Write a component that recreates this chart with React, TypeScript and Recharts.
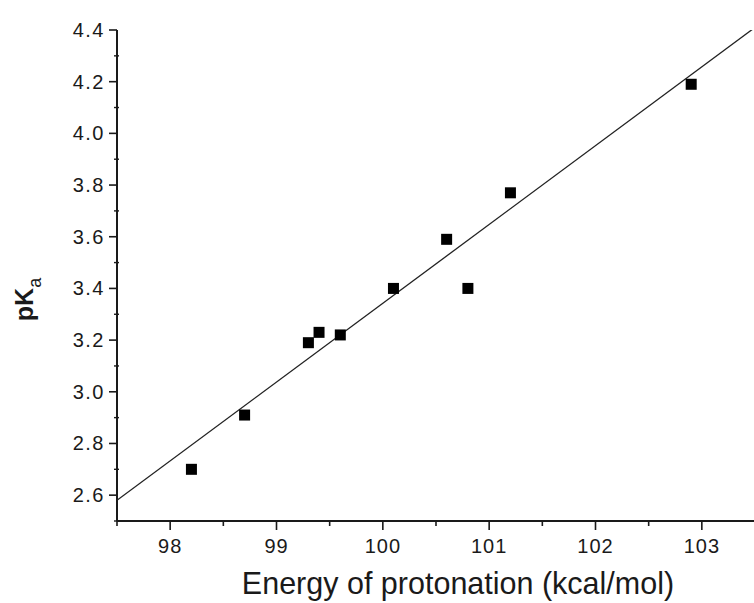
import React from "react";
import { ScatterChart, Scatter, XAxis, YAxis, Label } from "recharts";

// measured points (energy of protonation vs pKa)
const energy = [98.2, 98.7, 99.3, 99.4, 99.6, 100.1, 100.6, 100.8, 101.2, 102.9];
const pka = [2.7, 2.91, 3.19, 3.23, 3.22, 3.4, 3.59, 3.4, 3.77, 4.19];

// linear fit, drawn across the whole axis
const fitX = [97.5, 103.5];
const fitY = [2.58, 4.41];

const xTicks = [97.5, 98, 98.5, 99, 99.5, 100, 100.5, 101, 101.5, 102, 102.5, 103, 103.5];
const yTicks = [2.5, 2.6, 2.7, 2.8, 2.9, 3.0, 3.1, 3.2, 3.3, 3.4, 3.5, 3.6, 3.7, 3.8, 3.9, 4.0, 4.1, 4.2, 4.3, 4.4];

const points = energy.map((x, i) => ({ x, y: pka[i] }));
const fit = fitX.map((x, i) => ({ x, y: fitY[i] }));

const INK = "#1a1a1a";
const FONT = "'Liberation Sans', Arial, sans-serif";

function XTick({ x, y, payload }: any) {
  const v = payload.value as number;
  const major = Number.isInteger(v);
  return (
    <g>
      <line x1={x} x2={x} y1={y} y2={y + (major ? 9 : 5)} stroke={INK} strokeWidth={1.6} />
      {major && (
        <text x={x} y={y + 32} textAnchor="middle" fontSize={20} fill={INK} fontFamily={FONT} letterSpacing={1}>
          {v}
        </text>
      )}
    </g>
  );
}

function YTick({ x, y, payload }: any) {
  const v = payload.value as number;
  const major = Math.round(v * 10) % 2 === 0;
  return (
    <g>
      {major ? (
        <line x1={x - 8} x2={x} y1={y} y2={y} stroke={INK} strokeWidth={1.6} />
      ) : (
        <line x1={x - 3} x2={x + 2} y1={y} y2={y} stroke={INK} strokeWidth={1.4} />
      )}
      {major && (
        <text x={x - 12} y={y + 7} textAnchor="end" fontSize={20} fill={INK} fontFamily={FONT} letterSpacing={1.5}>
          {v.toFixed(1)}
        </text>
      )}
    </g>
  );
}

const Square = ({ cx, cy }: any) => <rect x={cx - 5.5} y={cy - 5.5} width={11} height={11} fill="#000" />;

export default function App() {
  return (
    <div style={{ position: "absolute", left: 0, top: 0, width: 754, height: 603, overflow: "hidden", background: "#fff" }}>
      <ScatterChart width={760} height={603} margin={{ top: 30, right: 5, left: 0, bottom: 0 }}>
        <XAxis
          type="number"
          dataKey="x"
          domain={[97.5, 103.5]}
          ticks={xTicks}
          interval={0}
          tickSize={0}
          tickMargin={0}
          tickLine={false}
          tick={<XTick />}
          axisLine={{ stroke: INK, strokeWidth: 2 }}
          height={82}
          allowDataOverflow
        >
          <Label
            content={({ viewBox }: any) => (
              <text
                x={viewBox.x + viewBox.width / 2 + 22}
                y={viewBox.y + 73}
                textAnchor="middle"
                fontSize={30.5}
                fill={INK}
                fontFamily={FONT}
              >
                Energy of protonation (kcal/mol)
              </text>
            )}
          />
        </XAxis>
        <YAxis
          type="number"
          dataKey="y"
          domain={[2.5, 4.4]}
          ticks={yTicks}
          interval={0}
          tickSize={0}
          tickMargin={0}
          tickLine={false}
          tick={<YTick />}
          axisLine={{ stroke: INK, strokeWidth: 2 }}
          width={117}
          allowDataOverflow
        >
          <Label
            content={({ viewBox }: any) => {
              const cx = 33;
              const cy = viewBox.y + viewBox.height / 2 + 24;
              return (
                <text
                  x={cx}
                  y={cy}
                  transform={`rotate(-90 ${cx} ${cy})`}
                  textAnchor="middle"
                  fontSize={25}
                  fontWeight={600}
                  fill={INK}
                  fontFamily={FONT}
                >
                  pK
                  <tspan fontSize={18} fontWeight={400} dy={8}>
                    a
                  </tspan>
                </text>
              );
            }}
          />
        </YAxis>
        <Scatter
          data={fit}
          line={{ stroke: "#222", strokeWidth: 1.3 }}
          shape={() => null}
          isAnimationActive={false}
        />
        <Scatter data={points} shape={<Square />} isAnimationActive={false} />
      </ScatterChart>
    </div>
  );
}
